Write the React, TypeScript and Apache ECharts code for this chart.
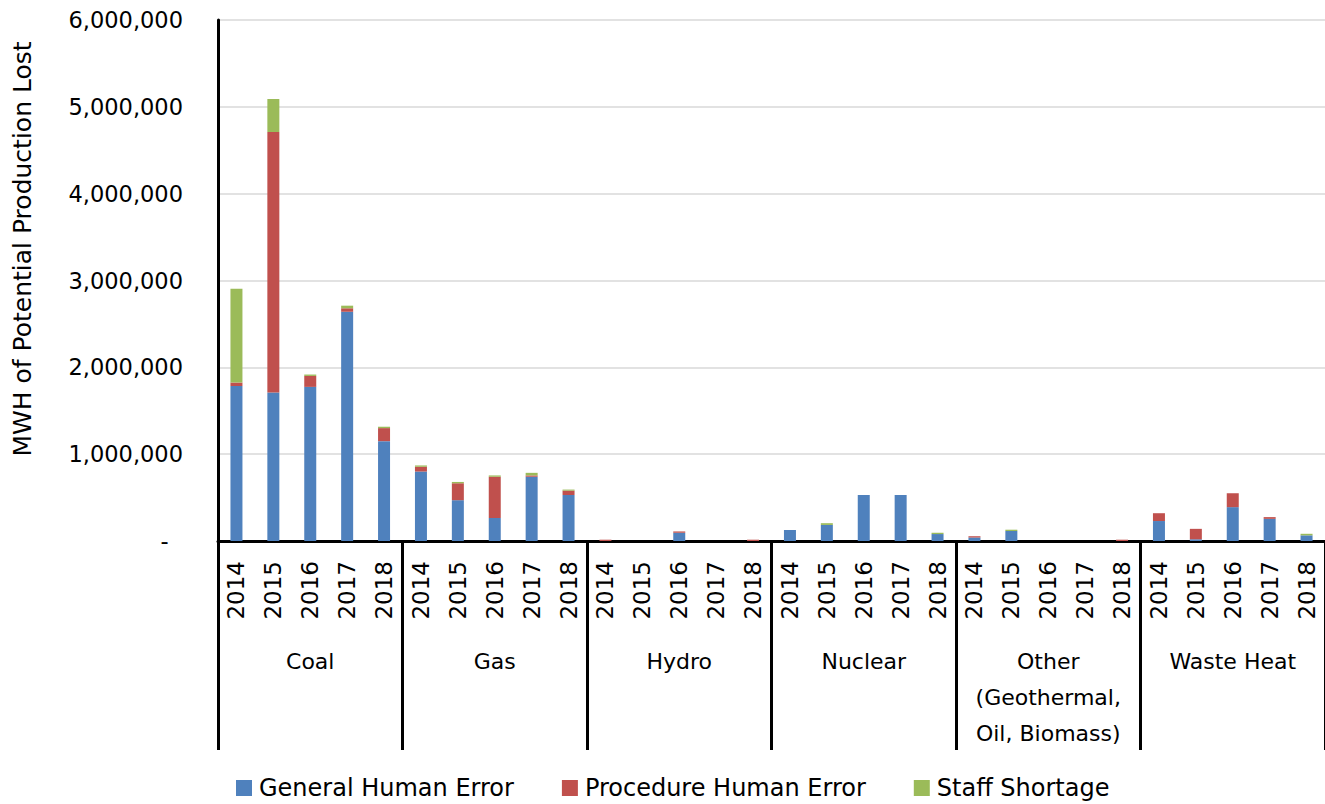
import React, { useEffect, useRef } from "react";
import * as echarts from "echarts";

const groups = ["Coal", "Gas", "Hydro", "Nuclear", "Other\n(Geothermal,\nOil, Biomass)", "Waste Heat"];
const years = ["2014", "2015", "2016", "2017", "2018"];

// values per (group, year) in order Coal 2014..2018, Gas 2014..2018, ...
const generalHumanError = [
  1785000, 1710000, 1775000, 2640000, 1150000,
  800000, 470000, 265000, 740000, 530000,
  0, 0, 95000, 0, 0,
  127000, 185000, 530000, 530000, 80000,
  40000, 115000, 0, 0, 0,
  230000, 20000, 390000, 255000, 65000,
];
const procedureHumanError = [
  40000, 3000000, 126000, 40000, 150000,
  55000, 195000, 475000, 15000, 50000,
  15000, 0, 15000, 0, 15000,
  0, 0, 0, 0, 0,
  15000, 0, 0, 0, 15000,
  90000, 120000, 160000, 20000, 0,
];
const staffShortage = [
  1080000, 380000, 16000, 30000, 16000,
  15000, 15000, 15000, 30000, 12000,
  0, 0, 0, 0, 0,
  0, 20000, 0, 0, 15000,
  0, 15000, 0, 0, 0,
  0, 0, 0, 0, 18000,
];
const yTicks = [0, 1000000, 2000000, 3000000, 4000000, 5000000, 6000000];

const FONT = "DejaVu Sans";

export default function App() {
  const ref = useRef<HTMLDivElement>(null);
  useEffect(() => {
    if (!ref.current) return;
    const chart = echarts.init(ref.current, null, { renderer: "svg" });
    const categories: string[] = [];
    groups.forEach(() => years.forEach((y) => categories.push(y)));
    const mk = (name: string, data: number[], color: string) => ({
      name,
      type: "bar",
      stack: "total",
      data,
      barWidth: 12,
      itemStyle: { color },
      xAxisIndex: 0,
      yAxisIndex: 0,
    });
    chart.setOption({
      animation: false,
      textStyle: { fontFamily: FONT },
      grid: { left: 218, right: 0, top: 20, bottom: 263, containLabel: false },
      legend: {
        left: 236,
        top: 775,
        padding: 0,
        itemWidth: 16,
        itemHeight: 16,
        itemGap: 48,
        icon: "rect",
        textStyle: { fontFamily: FONT, fontSize: 24, lineHeight: 26, color: "#000", padding: [0, 0, 0, 2] },
        data: ["General Human Error", "Procedure Human Error", "Staff Shortage"],
      },
      xAxis: [
        {
          type: "category",
          data: categories,
          position: "bottom",
          axisLine: { show: true, lineStyle: { color: "#000", width: 3 } },
          axisTick: { show: false },
          axisLabel: {
            interval: 0,
            rotate: 90,
            margin: 20,
            fontFamily: FONT,
            fontSize: 23,
            color: "#000",
          },
          splitLine: { show: false },
        },
        {
          type: "category",
          data: groups,
          position: "bottom",
          axisLine: { show: false },
          axisTick: { show: true, length: 209, lineStyle: { color: "#000", width: 3 } },
          axisLabel: {
            interval: 0,
            margin: 102,
            fontFamily: FONT,
            fontSize: 22,
            lineHeight: 36,
            color: "#000",
            align: "center",
          },
          splitLine: { show: false },
        },
      ],
      yAxis: {
        type: "value",
        min: yTicks[0],
        max: yTicks[yTicks.length - 1],
        interval: 1000000,
        axisLine: { show: true, lineStyle: { color: "#000", width: 3 } },
        axisTick: { show: false },
        splitLine: { show: true, lineStyle: { color: "#d9d9d9", width: 1.5 } },
        axisLabel: {
          margin: 35,
          fontFamily: FONT,
          fontSize: 22.5,
          color: "#000",
          formatter: (v: number) => (v === 0 ? "-  " : v.toLocaleString("en-US")),
        },
      },
      graphic: [
        {
          type: "text",
          x: 22,
          y: 249,
          rotation: Math.PI / 2,
          style: {
            text: "MWH of Potential Production Lost",
            fontFamily: FONT,
            fontSize: 25,
            fill: "#000",
            textAlign: "center",
            textVerticalAlign: "middle",
          },
        },
      ],
      series: [
        mk("General Human Error", generalHumanError, "#4f81bd"),
        mk("Procedure Human Error", procedureHumanError, "#c0504d"),
        mk("Staff Shortage", staffShortage, "#9bbb59"),
      ],
    });
    return () => chart.dispose();
  }, []);
  return (
    <div
      ref={ref}
      style={{ position: "fixed", left: 0, top: 0, width: 1325, height: 804, background: "#fff" }}
    />
  );
}
